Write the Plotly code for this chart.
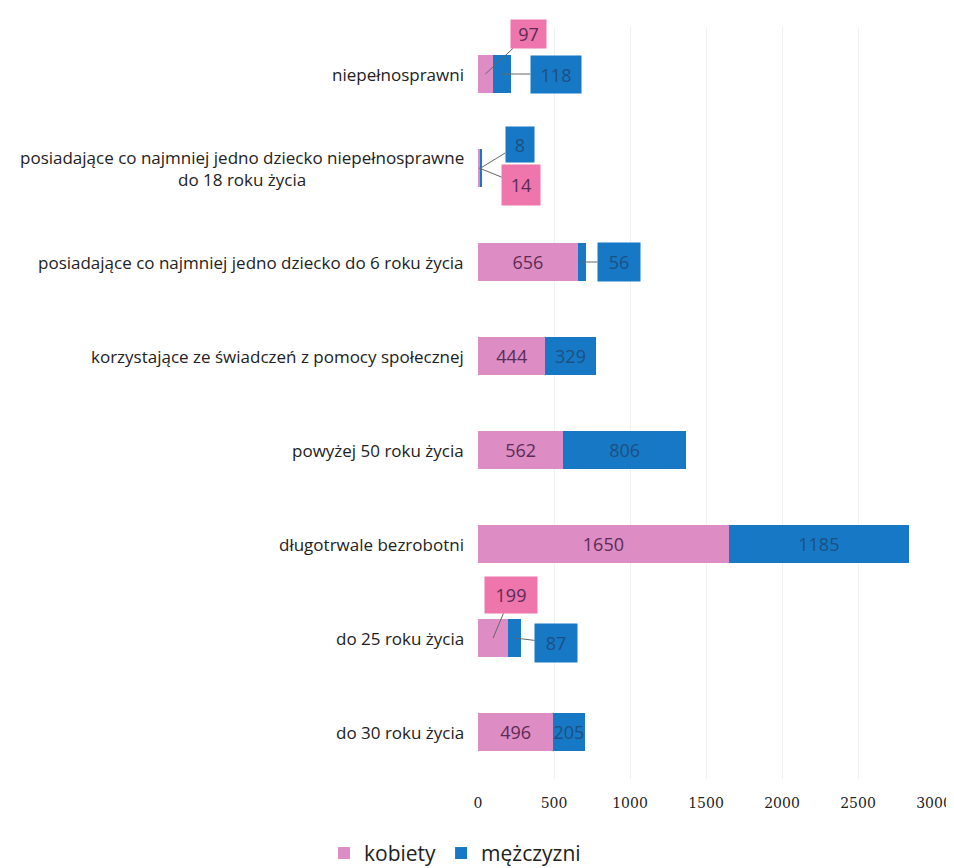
import plotly.graph_objects as go

categories = [
    "niepełnosprawni",
    "posiadające co najmniej jedno dziecko niepełnosprawne<br>do 18 roku życia",
    "posiadające co najmniej jedno dziecko do 6 roku życia",
    "korzystające ze świadczeń z pomocy społecznej",
    "powyżej 50 roku życia",
    "długotrwale bezrobotni",
    "do 25 roku życia",
    "do 30 roku życia",
]
kobiety = [97, 14, 656, 444, 562, 1650, 199, 496]
mezczyzni = [118, 8, 56, 329, 806, 1185, 87, 205]
x_ticks = [0, 500, 1000, 1500, 2000, 2500, 3000]

# callout label styling: (series, category index) -> (offset x, offset y, box w, box h) in px
callouts = {
    ("k", 0): (43, -40, 35, 28),
    ("m", 0): (54, 0, 50, 37),
    ("m", 1): (39, -24, 28, 35),
    ("k", 1): (42, 17, 38, 40),
    ("m", 2): (37, 0, 42, 38),
    ("k", 6): (18, -43, 52, 36),
    ("m", 6): (41, 5, 42, 38),
}

PINK = "#DE8DC4"
PINK_BOX = "#EE76AC"
BLUE = "#1779C6"
TXT_PINK = "#5B2B57"
TXT_BLUE = "#1D4F82"
FONT = "Open Sans, sans-serif"

k_text = ["" if ("k", i) in callouts else str(v) for i, v in enumerate(kobiety)]
m_text = ["" if ("m", i) in callouts else str(v) for i, v in enumerate(mezczyzni)]

fig = go.Figure()
fig.add_trace(go.Bar(
    y=categories, x=kobiety, name="kobiety", orientation="h",
    marker=dict(color=PINK, line=dict(width=0)),
    text=k_text, textposition="inside", insidetextanchor="middle",
    constraintext="none",
    textfont=dict(family=FONT, size=18, color=TXT_PINK),
    textangle=0,
))
fig.add_trace(go.Bar(
    y=categories, x=mezczyzni, name="mężczyzni", orientation="h",
    marker=dict(color=BLUE, line=dict(width=0)),
    text=m_text, textposition="inside", insidetextanchor="middle",
    constraintext="none",
    textfont=dict(family=FONT, size=18, color=TXT_BLUE),
    textangle=0,
))

annotations = []
for (series, i), (ax, ay, w, h) in callouts.items():
    if series == "k":
        val = kobiety[i]
        xc = val / 2
        bg, fc = PINK_BOX, TXT_PINK
    else:
        val = mezczyzni[i]
        xc = kobiety[i] + val / 2
        bg, fc = BLUE, TXT_BLUE
    annotations.append(dict(
        x=xc, y=categories[i], xref="x", yref="y",
        text=str(val), showarrow=True, arrowhead=0, arrowwidth=1,
        arrowcolor="#666666", ax=ax, ay=ay,
        bgcolor=bg, borderpad=0, width=w, height=h, valign="middle",
        font=dict(family=FONT, size=18, color=fc),
    ))

for c in categories:
    annotations.append(dict(
        x=0, xref="paper", xanchor="right", xshift=-12,
        y=c, yref="y", yanchor="middle",
        text=c, showarrow=False, align="center",
        font=dict(family=FONT, size=17, color="#222222"),
    ))

fig.update_layout(
    width=946, height=860,
    margin=dict(l=470, r=20, t=19, b=89, autoexpand=False),
    barmode="stack", bargap=0.6,
    plot_bgcolor="white", paper_bgcolor="white",
    showlegend=True,
    legend=dict(orientation="h", traceorder="normal",
                xref="container", x=0.4725, xanchor="center",
                yref="container", y=0.017, yanchor="middle",
                font=dict(family=FONT, size=21, color="#222222"),
                itemwidth=30),
    annotations=annotations,
    xaxis=dict(range=[0, 3000], tickvals=x_ticks, showgrid=True,
               gridcolor="#f0f0f0", gridwidth=1, zeroline=False,
               showline=False, ticks="", ticklabelstandoff=14,
               tickfont=dict(family="DejaVu Serif, serif", size=14, color="#222222")),
    yaxis=dict(autorange="reversed", showticklabels=False, showgrid=False,
               zeroline=False, showline=False, ticks=""),
)

fig.write_html("out.html")
